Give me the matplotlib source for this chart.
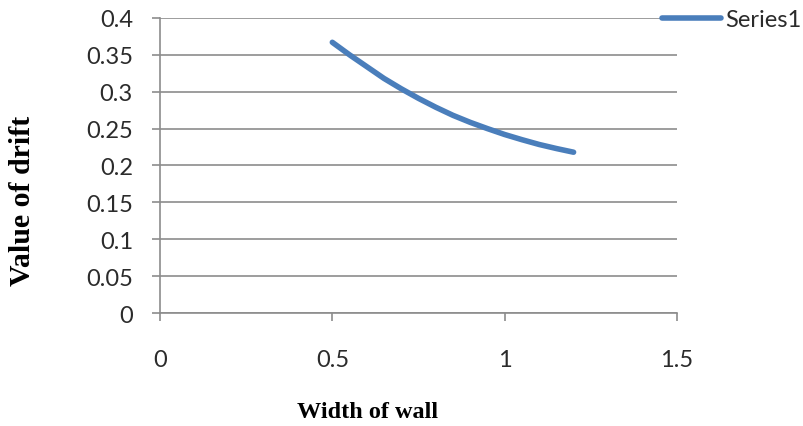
import matplotlib.pyplot as plt

# values
width = [0.5, 0.55, 0.6, 0.65, 0.7, 0.75, 0.8, 0.85, 0.9, 0.95, 1.0, 1.05, 1.1, 1.15, 1.2]
drift = [0.367, 0.350, 0.334, 0.318, 0.304, 0.291, 0.279, 0.268, 0.2585, 0.250,
         0.242, 0.235, 0.2285, 0.223, 0.218]
xticks = [0, 0.5, 1, 1.5]
yticks = [0, 0.05, 0.1, 0.15, 0.2, 0.25, 0.3, 0.35, 0.4]

grey = '#8c8c8c'
tick_font = 'Lato'

fig = plt.figure(figsize=(8.04, 4.27), dpi=100)
ax = fig.add_axes([0.199, 0.2646, 0.643, 0.691])

ax.plot(width, drift, color='#4a7ebb', linewidth=4, solid_capstyle='round',
        solid_joinstyle='round', label='Series1')

ax.set_xlim(0, 1.5)
ax.set_ylim(0, 0.4)
ax.set_xticks(xticks)
ax.set_xticklabels(['0', '0.5', '1', '1.5'])
ax.set_yticks(yticks)
ax.set_yticklabels(['0', '0.05', '0.1', '0.15', '0.2', '0.25', '0.3', '0.35', '0.4'])

ax.grid(axis='y', color=grey, linewidth=1.2)
ax.set_axisbelow(True)
for s in ['top', 'right']:
    ax.spines[s].set_visible(False)
for s in ['left', 'bottom']:
    ax.spines[s].set_color(grey)
    ax.spines[s].set_linewidth(1.2)

ax.tick_params(axis='x', length=6, width=1.2, color=grey, pad=20)
ax.tick_params(axis='y', length=6, width=1.2, color=grey, pad=13.5)
for lab in ax.get_xticklabels() + ax.get_yticklabels():
    lab.set_fontfamily(tick_font)
    lab.set_fontsize(17)
    lab.set_color('#2b2b2b')

fig.text(368 / 804, 1 - 413 / 427, 'Width of wall', ha='center', va='center',
         family='Liberation Serif', weight='bold', fontsize=17.5)
fig.text(23 / 804, 1 - 201 / 427, 'Value of drift', ha='center', va='center', rotation=90,
         family='Liberation Serif', weight='bold', fontsize=21.5)

leg = fig.legend(loc='center left', bbox_to_anchor=(0.812, 0.951), frameon=False,
                 handlelength=2.5, handletextpad=0.17, borderaxespad=0,
                 prop={'family': tick_font, 'size': 17})
for t in leg.get_texts():
    t.set_color('#2b2b2b')

plt.savefig('out.png', dpi=100)
plt.close()
